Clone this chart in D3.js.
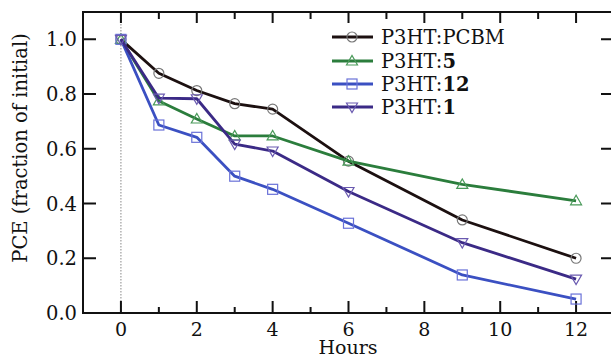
<!DOCTYPE html>
<html>
<head>
<meta charset="utf-8">
<script src="https://cdn.jsdelivr.net/npm/d3@7"></script>
<style>
  body { margin: 0; background: #fff; }
  svg { display: block; font-family: "DejaVu Serif", "Liberation Serif", serif; }
</style>
</head>
<body>
<svg id="chart" width="611" height="358"></svg>
<script>
// data
var hours = [0, 1, 2, 3, 4, 6, 9, 12];
var pcbm = [1.0, 0.876, 0.813, 0.765, 0.745, 0.555, 0.34, 0.2];
var p5   = [1.0, 0.775, 0.709, 0.647, 0.647, 0.555, 0.47, 0.41];
var p12  = [1.0, 0.687, 0.642, 0.50, 0.452, 0.328, 0.139, 0.051];
var p1   = [1.0, 0.785, 0.783, 0.617, 0.592, 0.444, 0.257, 0.124];
var xTicks = [0, 2, 4, 6, 8, 10, 12];
var xMinor = [1, 3, 5, 7, 9, 11];
var yTicks = [0.0, 0.2, 0.4, 0.6, 0.8, 1.0];

var series = [
  { label: 'P3HT:', bold: 'PCBM', plain: true, vals: pcbm, color: '#1c1010', mark: '#777', shape: 'circle' },
  { label: 'P3HT:', bold: '5', vals: p5, color: '#2b7d3c', mark: '#4a9a5a', shape: 'up' },
  { label: 'P3HT:', bold: '12', vals: p12, color: '#3b50c2', mark: '#6a72d8', shape: 'square' },
  { label: 'P3HT:', bold: '1', vals: p1, color: '#3b2a86', mark: '#6a5ab0', shape: 'down' }
];

var svg = d3.select('#chart');
var pL = 83, pR = 614, pT = 12, pB = 313;

var x = d3.scaleLinear().domain([-1, 13]).range([pL, pR]);
var y = d3.scaleLinear().domain([0, 1.1]).range([pB, pT]);

// dotted line at t = 0
svg.append('line')
  .attr('x1', x(0)).attr('x2', x(0))
  .attr('y1', pT).attr('y2', pB)
  .attr('stroke', '#888').attr('stroke-width', 1)
  .attr('stroke-dasharray', '1.5,1.5');

// frame
svg.append('path')
  .attr('d', 'M' + pR + ',' + pT + 'H' + pL + 'V' + pB + 'H' + pR)
  .attr('fill', 'none').attr('stroke', '#111').attr('stroke-width', 2);

// x ticks, bottom and top (pointing inward)
svg.selectAll('.xmaj').data(xTicks).enter().append('path')
  .attr('d', function(d) { return 'M' + x(d) + ',' + pB + 'v-12M' + x(d) + ',' + pT + 'v11'; })
  .attr('stroke', '#111').attr('stroke-width', 2);
svg.selectAll('.xmin').data(xMinor).enter().append('path')
  .attr('d', function(d) { return 'M' + x(d) + ',' + pB + 'v-6M' + x(d) + ',' + pT + 'v7'; })
  .attr('stroke', '#111').attr('stroke-width', 2);

// y ticks, left and right
svg.selectAll('.ytk').data(yTicks).enter().append('path')
  .attr('d', function(d) { return 'M' + pL + ',' + y(d) + 'h13M' + pR + ',' + y(d) + 'h-13'; })
  .attr('stroke', '#111').attr('stroke-width', 2);

svg.selectAll('.xlab').data(xTicks).enter().append('text')
  .attr('x', function(d) { return x(d); }).attr('y', 336)
  .attr('text-anchor', 'middle').attr('font-size', 19).attr('fill', '#111')
  .text(function(d) { return d; });

var fmt = d3.format('.1f');
svg.selectAll('.ylab').data(yTicks).enter().append('text')
  .attr('x', 77).attr('y', function(d) { return y(d) + 7; })
  .attr('text-anchor', 'end').attr('font-size', 19.5).attr('fill', '#111')
  .text(function(d) { return fmt(d); });

svg.append('text').attr('x', 348).attr('y', 354)
  .attr('text-anchor', 'middle').attr('font-size', 19).attr('fill', '#111')
  .text('Hours');

svg.append('text')
  .attr('transform', 'translate(27,148) rotate(-90)')
  .attr('text-anchor', 'middle').attr('font-size', 19.5).attr('fill', '#111')
  .text('PCE (fraction of initial)');

function marker(g, shape, color, cx, cy) {
  if (shape == 'circle') {
    g.append('circle').attr('cx', cx).attr('cy', cy).attr('r', 5)
      .attr('fill', 'none').attr('stroke', color).attr('stroke-width', 1.2);
  } else if (shape == 'square') {
    g.append('rect').attr('x', cx - 5).attr('y', cy - 5).attr('width', 10).attr('height', 10)
      .attr('fill', 'none').attr('stroke', color).attr('stroke-width', 1.2);
  } else {
    var s = shape == 'up' ? -1 : 1;
    g.append('path')
      .attr('d', 'M' + (cx - 5.5) + ',' + (cy - s * 4) + 'L' + (cx + 5.5) + ',' + (cy - s * 4) + 'L' + cx + ',' + (cy + s * 5.5) + 'Z')
      .attr('fill', 'none').attr('stroke', color).attr('stroke-width', 1.2);
  }
}

var line = d3.line()
  .x(function(d, i) { return x(hours[i]); })
  .y(function(d) { return y(d); });

series.forEach(function(s) {
  var g = svg.append('g');
  g.append('path').datum(s.vals).attr('d', line)
    .attr('fill', 'none').attr('stroke', s.color).attr('stroke-width', 2.8)
    .attr('stroke-linejoin', 'round');
  s.vals.forEach(function(v, i) {
    marker(g, s.shape, s.mark, x(hours[i]), y(v));
  });
});

// legend
var legY = [37, 61, 84, 107];
series.forEach(function(s, i) {
  var g = svg.append('g');
  g.append('line').attr('x1', 332).attr('x2', 373).attr('y1', legY[i]).attr('y2', legY[i])
    .attr('stroke', s.color).attr('stroke-width', 2.8);
  marker(g, s.shape, s.mark, 352, legY[i]);
  var t = g.append('text').attr('x', 381).attr('y', legY[i] + 7)
    .attr('font-size', 19.5).attr('fill', '#111');
  t.append('tspan').text(s.label);
  t.append('tspan').attr('font-weight', s.plain ? 'normal' : 'bold').text(s.bold);
});
</script>
</body>
</html>
